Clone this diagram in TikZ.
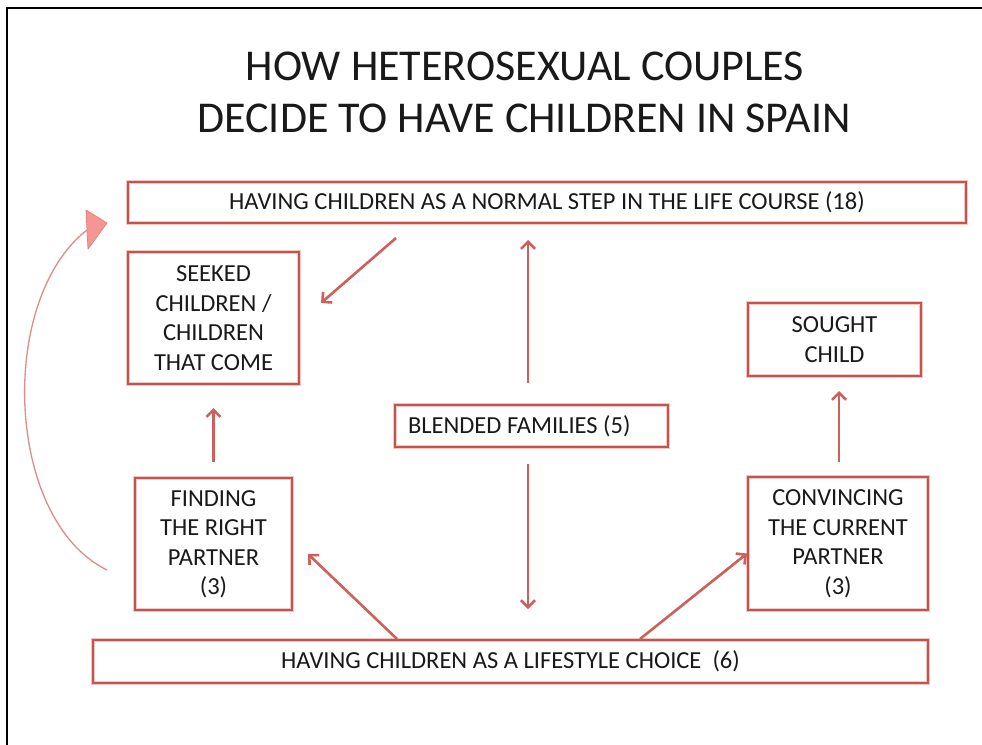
\documentclass[tikz,border=0pt]{standalone}
\usepackage{fontspec}
\setmainfont{Carlito}
\usetikzlibrary{arrows.meta}
\definecolor{boxred}{RGB}{198,82,78}
\definecolor{arrred}{RGB}{206,96,92}
\definecolor{halo}{RGB}{242,200,198}
\definecolor{trifill}{RGB}{244,150,146}
\definecolor{tridraw}{RGB}{230,130,128}
\definecolor{curvecol}{RGB}{220,140,140}
\definecolor{txt}{RGB}{25,25,25}
\begin{document}
\begin{tikzpicture}[x=1pt,y=-1pt,
  box/.style={draw=boxred, line width=2pt, rectangle, inner sep=0pt, text=txt,
    align=center, font=\fontsize{24.5}{29.5}\selectfont,
    preaction={draw=halo, line width=4.5pt}},
  arr/.style={draw=arrred, line width=2.6pt, -{Straight Barb[length=7pt,width=14pt]}},
  titletext/.style={anchor=base, font=\fontsize{44}{52}\selectfont, text=txt, inner sep=0pt}
]
\useasboundingbox (0,0) rectangle (982,744);
\fill[white] (0,0) rectangle (982,744);
\draw[line width=2pt] (7,745) -- (7,8) -- (983,8);

\node[titletext] (title1) at (525,80) {HOW HETEROSEXUAL COUPLES};
\node[titletext] (title2) at (524,132) {DECIDE TO HAVE CHILDREN IN SPAIN};

\node[box, minimum width=838, minimum height=41] (normal) at (547,202.5)
  {HAVING CHILDREN AS A NORMAL STEP IN THE LIFE COURSE (18)};
\node[box, minimum width=171, minimum height=132] (seeked) at (213.5,318)
  {SEEKED\\CHILDREN /\\CHILDREN\\THAT COME};
\node[box, minimum width=173, minimum height=73] (sought) at (834.5,339.5)
  {SOUGHT\\CHILD};
\node[box, minimum width=273, minimum height=42, text width=247, inner xsep=13pt, align=flush left] (blended) at (531.5,426)
  {BLENDED FAMILIES (5)};
\node[box, minimum width=157, minimum height=132] (finding) at (213.5,544)
  {FINDING\\THE RIGHT\\PARTNER\\(3)};
\node[box, minimum width=180, minimum height=133] (convincing) at (838,543.5)
  {CONVINCING\\THE CURRENT\\PARTNER\\(3)};
\node[box, minimum width=835, minimum height=43] (lifestyle) at (510.5,661.5)
  {HAVING CHILDREN AS A LIFESTYLE CHOICE\ \ (6)};

% named end points of the diagonal connectors
\coordinate (n1) at (396,238);
\coordinate (s1) at (321,303);
\coordinate (l1) at ([xshift=-113.5pt]lifestyle.north);
\coordinate (f1) at ([xshift=15pt,yshift=-10pt]finding.east);
\coordinate (l2) at ([xshift=129.5pt]lifestyle.north);
\coordinate (c1) at ([yshift=-10pt]convincing.west);

\draw[arr] (n1) -- (s1);
\draw[arr, shorten <=15pt, shorten >=23pt] (finding.north) -- (seeked.south);
\draw[arr, shorten <=21pt, shorten >=16pt] ([xshift=-3.5pt]blended.north) -- ([xshift=-3.5pt]blended.north |- normal.south);
\draw[arr, shorten <=16pt, shorten >=30pt] ([xshift=-3.5pt]blended.south) -- ([xshift=-3.5pt]blended.south |- lifestyle.north);
\draw[arr, shorten <=14pt, shorten >=14pt] ([xshift=1pt]convincing.north) -- ([xshift=1pt]convincing.north |- sought.south);
\draw[arr] (l1) -- (f1);
\draw[arr] (l2) -- (c1);

% curved feedback arrow from FINDING THE RIGHT PARTNER to the top box
\coordinate (cv0) at (107,570);
\coordinate (cv1) at (87,230);
\draw[curvecol, line width=1.3pt] (cv0) .. controls (5,520) and (-3,300) .. (cv1);
\filldraw[fill=trifill, draw=tridraw, line width=0.8pt, line join=round] (86,210) -- (107,223) -- (88,249) -- cycle;
\end{tikzpicture}
\end{document}
